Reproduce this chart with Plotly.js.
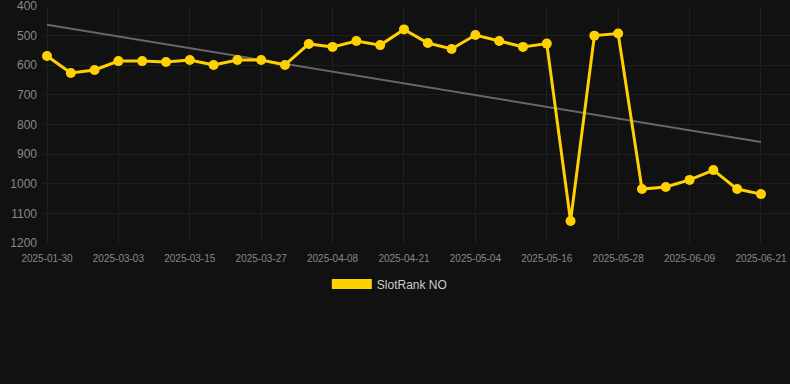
<!DOCTYPE html>
<html>
<head>
<meta charset="utf-8">
<script src="https://cdn.plot.ly/plotly-3.0.1.min.js"></script>
<style>
  html, body { margin: 0; padding: 0; background: #111111; }
  #chart { width: 790px; height: 384px; }
</style>
</head>
<body>
<div id="chart"></div>
<script>
const dates = [
  "2025-01-30", "2025-02-10", "2025-02-21", "2025-03-03", "2025-03-07", "2025-03-11",
  "2025-03-15", "2025-03-19", "2025-03-23", "2025-03-27", "2025-03-31", "2025-04-04",
  "2025-04-08", "2025-04-12", "2025-04-16", "2025-04-21", "2025-04-25", "2025-04-29",
  "2025-05-04", "2025-05-08", "2025-05-12", "2025-05-16", "2025-05-20", "2025-05-24",
  "2025-05-28", "2025-06-01", "2025-06-05", "2025-06-09", "2025-06-13", "2025-06-17",
  "2025-06-21"
];
const rankNO = [
  569, 626, 616, 586, 586, 589,
  582, 599, 582, 582, 599, 528,
  538, 518, 532, 479, 525, 545,
  498, 518, 538, 527, 1126, 500,
  493, 1018, 1011, 987, 954, 1018,
  1035
];
const trendDates = ["2025-01-30", "2025-06-21"];
const trendValues = [463, 859];
const tickDates = ["2025-01-30", "2025-03-03", "2025-03-15", "2025-03-27", "2025-04-08", "2025-04-21",
                   "2025-05-04", "2025-05-16", "2025-05-28", "2025-06-09", "2025-06-21"];
const yTicks = [400, 500, 600, 700, 800, 900, 1000, 1100, 1200];
const seriesName = "SlotRank NO";

const gold = "#FFD100";

const traces = [
  {
    x: trendDates, y: trendValues, type: "scatter", mode: "lines",
    line: { color: "#666666", width: 2 }, showlegend: false, hoverinfo: "skip"
  },
  {
    x: dates, y: rankNO, type: "scatter", mode: "lines+markers",
    line: { color: gold, width: 3 },
    marker: { color: gold, size: 10 },
    showlegend: false, name: seriesName
  },
  {
    x: [dates[0]], y: [null], type: "scatter", mode: "lines",
    line: { color: gold, width: 11 }, name: seriesName, showlegend: true
  }
];

const layout = {
  width: 790, height: 384,
  paper_bgcolor: "#111111", plot_bgcolor: "#111111",
  margin: { l: 42, r: 0, t: 6, b: 141 },
  font: { family: "Liberation Sans, Arial, sans-serif", color: "#888888" },
  xaxis: {
    type: "category",
    categoryorder: "array", categoryarray: dates,
    range: [-0.21, 31.22],
    tickmode: "array", tickvals: tickDates, ticktext: tickDates,
    tickfont: { size: 10, color: "#888888" },
    ticklabelstandoff: 8,
    showgrid: true, gridcolor: "#1f1f1f", gridwidth: 1,
    zeroline: false, showline: false, ticks: ""
  },
  yaxis: {
    range: [1200, 400],
    tickmode: "array", tickvals: yTicks, ticktext: yTicks.map(String),
    tickfont: { size: 12, color: "#888888" },
    ticklabelstandoff: 4,
    ticklabeloverflow: "allow",
    showgrid: true, gridcolor: "#1f1f1f", gridwidth: 1,
    zeroline: false, showline: false, ticks: ""
  },
  showlegend: true,
  legend: {
    orientation: "h", x: 0.465, xanchor: "center", y: -0.173, yanchor: "middle",
    itemwidth: 40,
    font: { size: 12, color: "#cccccc" }, bgcolor: "rgba(0,0,0,0)"
  }
};

Plotly.newPlot("chart", traces, layout, { displayModeBar: false, staticPlot: true });
</script>
</body>
</html>
